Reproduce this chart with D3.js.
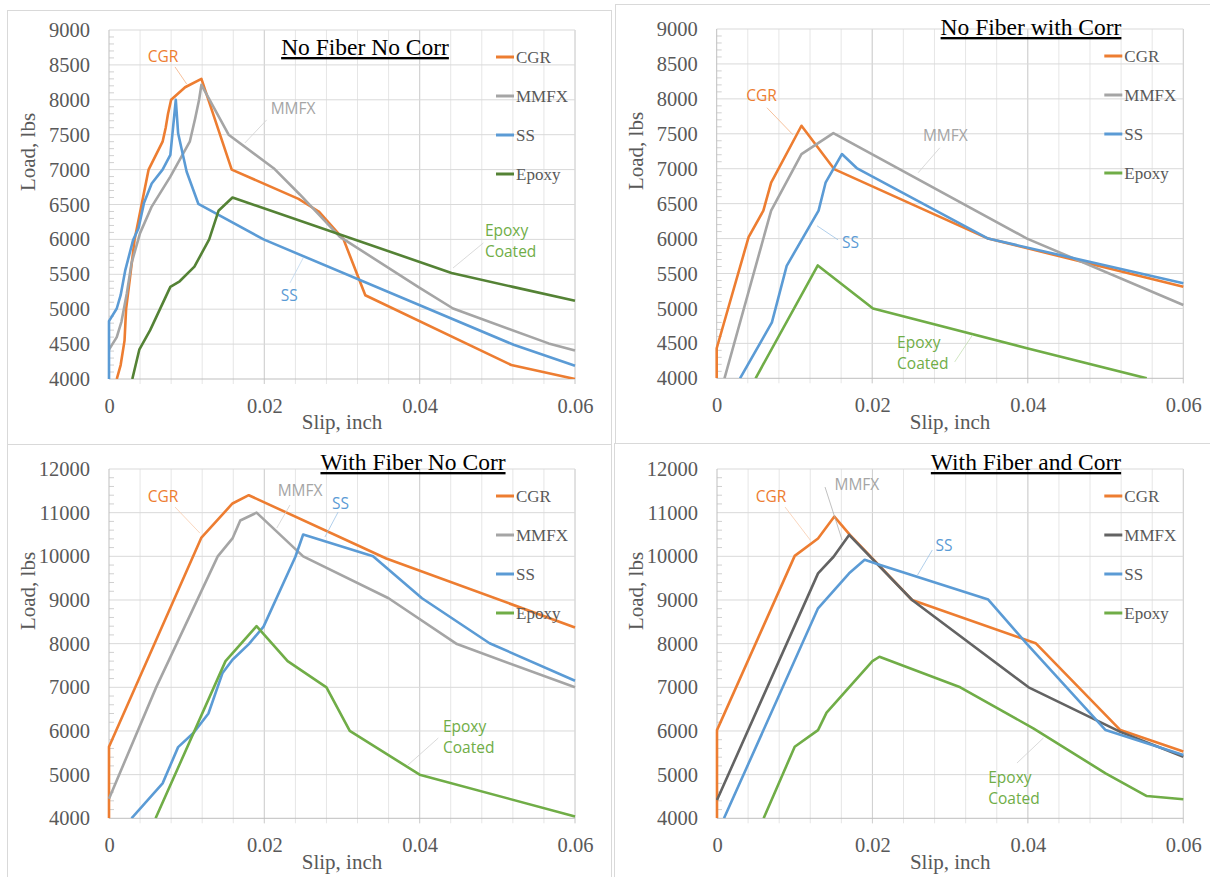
<!DOCTYPE html>
<html>
<head>
<meta charset="utf-8">
<script src="https://cdn.jsdelivr.net/npm/d3@7"></script>
<style>
body { margin: 0; background: #fff; }
svg { display: block; }
.tick text { font-family: 'Liberation Serif', 'Times New Roman', serif; }
</style>
</head>
<body>
<div id="chart"></div>
<script>
// ---- data: [slip (inch), load (lbs)] ----
const seriesNames = ["CGR", "MMFX", "SS", "Epoxy"]
const slipTicks = [0, 0.02, 0.04, 0.06]
const loadTicksNoFiber = [4000, 4500, 5000, 5500, 6000, 6500, 7000, 7500, 8000, 8500, 9000]
const loadTicksFiber = [4000, 5000, 6000, 7000, 8000, 9000, 10000, 11000, 12000]

// No Fiber No Corr
const nfncCGR = [[0.001,4000],[0.0015,4200],[0.002,4550],[0.0022,5000],[0.0027,5450],[0.0033,6000],[0.0042,6500],[0.0051,7000],[0.0069,7400],[0.0073,7600],[0.0076,7800],[0.008,8000],[0.0098,8180],[0.0119,8300],[0.0158,7000],[0.0244,6580],[0.027,6400],[0.0302,6000],[0.033,5200],[0.0518,4200],[0.06,4000]]
const nfncMMFX = [[0,4420],[0.001,4600],[0.0016,4820],[0.0023,5230],[0.0029,5660],[0.004,6090],[0.0055,6470],[0.0079,6900],[0.0104,7400],[0.0111,7735],[0.0116,8000],[0.0119,8215],[0.0154,7500],[0.0212,7020],[0.0246,6640],[0.0297,6040],[0.0398,5320],[0.0443,5010],[0.0566,4510],[0.06,4410]]
const nfncSS = [[0,4000],[0,4830],[0.001,5010],[0.0015,5200],[0.0021,5560],[0.0031,5990],[0.0038,6160],[0.0045,6520],[0.0055,6800],[0.0069,7000],[0.0079,7210],[0.0086,8000],[0.0089,7520],[0.01,6970],[0.0115,6510],[0.0199,6000],[0.0521,4490],[0.06,4190]]
const nfncEpoxy = [[0.003,4000],[0.0039,4420],[0.0053,4700],[0.0079,5320],[0.0091,5400],[0.011,5610],[0.0129,6000],[0.0141,6410],[0.0159,6600],[0.0441,5520],[0.052,5320],[0.06,5120]]

// No Fiber with Corr
const nfwcCGR = [[0,4000],[0,4430],[0.0041,6020],[0.006,6400],[0.007,6800],[0.0109,7615],[0.0151,6995],[0.0349,6000],[0.06,5310]]
const nfwcMMFX = [[0.001,4000],[0.007,6400],[0.0109,7210],[0.015,7510],[0.0399,6000],[0.06,5050]]
const nfwcSS = [[0.003,4000],[0.0071,4800],[0.009,5610],[0.0131,6400],[0.014,6800],[0.0161,7210],[0.018,7010],[0.0349,6000],[0.06,5360]]
const nfwcEpoxy = [[0.005,4000],[0.013,5615],[0.0201,5000],[0.0399,4430],[0.0553,4000]]

// With Fiber No Corr
const wfncCGR = [[0,4000],[0,5640],[0.0119,10430],[0.0159,11210],[0.018,11400],[0.0357,9950],[0.06,8370]]
const wfncMMFX = [[0,4450],[0.0061,7010],[0.014,10000],[0.0159,10410],[0.0169,10820],[0.019,11000],[0.025,10000],[0.036,9040],[0.0448,7990],[0.06,7000]]
const wfncSS = [[0.0029,4000],[0.0069,4800],[0.0089,5630],[0.0109,5960],[0.0128,6400],[0.0146,7320],[0.0159,7630],[0.018,7990],[0.0199,8390],[0.024,9990],[0.025,10500],[0.034,10000],[0.0403,9040],[0.049,8010],[0.06,7150]]
const wfncEpoxy = [[0.006,4000],[0.015,7600],[0.019,8400],[0.023,7600],[0.028,7000],[0.031,6000],[0.04,5000],[0.06,4040]]

// With Fiber and Corr
const wfacCGR = [[0,4000],[0,6020],[0.01,10010],[0.013,10410],[0.0151,10910],[0.0171,10490],[0.0251,9000],[0.041,8010],[0.0519,6020],[0.06,5530]]
const wfacMMFX = [[0,4420],[0.013,9610],[0.015,9990],[0.017,10490],[0.0251,9000],[0.0401,7000],[0.0519,5980],[0.06,5410]]
const wfacSS = [[0.0009,4000],[0.013,8810],[0.017,9610],[0.019,9920],[0.021,9800],[0.0349,9010],[0.0399,7990],[0.05,6020],[0.06,5450]]
const wfacEpoxy = [[0.006,4000],[0.01,5640],[0.013,6020],[0.0141,6420],[0.02,7600],[0.0209,7700],[0.0313,7000],[0.0407,6060],[0.05,5030],[0.0553,4510],[0.06,4435]]

// ---- styling ----
const orange = "#ED7D31", gray = "#A5A5A5", blue = "#5B9BD5", green = "#70AD47"
const darkGreen = "#548235", darkGray = "#636363"
const serif = "'Liberation Serif', 'Times New Roman', serif"
const sans = "'Open Sans', 'Liberation Sans', sans-serif"
const textGray = "#595959"

const W = 1210, H = 877
const svg = d3.select("#chart").append("svg")
    .attr("width", W)
    .attr("height", H)

// panel frames
const frames = [[7.5, 10.5, 604, 434], [615.5, 4.5, 600, 439], [7.5, 444.5, 604, 440], [614.5, 443.5, 600, 440]]
svg.selectAll("rect.frame")
    .data(frames)
    .enter().append("rect")
    .attr("class", "frame")
    .attr("x", d => d[0]).attr("y", d => d[1])
    .attr("width", d => d[2]).attr("height", d => d[3])
    .attr("fill", "none")
    .attr("stroke", "#d9d9d9")

const panels = [
    {
        title: "No Fiber No Corr", titleX: 365, titleY: 55,
        left: 109, right: 575, top: 30, bottom: 379,
        yMax: 9000, ticks: loadTicksNoFiber, minor: 100,
        series: [nfncCGR, nfncMMFX, nfncSS, nfncEpoxy],
        colors: [orange, gray, blue, darkGreen],
        notes: [
            {lines: ["CGR"], x: 0.00695, y: 8614, color: orange, lead: [[0.0085, 8471], [0.01, 8227]], leadColor: "#f4b183"},
            {lines: ["MMFX"], x: 0.0237, y: 7869, color: gray, lead: [[0.0203, 7712], [0.0175, 7382]], leadColor: "#d0d0d0"},
            {lines: ["SS"], x: 0.0232, y: 5189, color: blue, lead: [[0.0233, 5376], [0.025, 5734]], leadColor: "#bcd6ee"},
            {lines: ["Epoxy", "Coated"], x: 0.0484, y: 6121, anchor: "start", color: green, lead: [[0.0482, 5949], [0.0443, 5591]], leadColor: "#d0d0d0"}
        ]
    },
    {
        title: "No Fiber with Corr", titleX: 1031, titleY: 35,
        left: 716.7, right: 1183.3, top: 29, bottom: 378.3,
        yMax: 9000, ticks: loadTicksNoFiber, minor: 100,
        series: [nfwcCGR, nfwcMMFX, nfwcSS, nfwcEpoxy],
        colors: [orange, gray, blue, green],
        notes: [
            {lines: ["CGR"], x: 0.00576, y: 8045, color: orange, lead: [[0.00646, 7873], [0.0098, 7487]], leadColor: "#f4b183"},
            {lines: ["MMFX"], x: 0.0294, y: 7472, color: gray, lead: [[0.0287, 7300], [0.0259, 6942]], leadColor: "#d0d0d0"},
            {lines: ["SS"], x: 0.0172, y: 5939, color: blue, lead: [[0.0156, 5982], [0.0129, 6183]], leadColor: "#9dc3e6"},
            {lines: ["Epoxy", "Coated"], x: 0.0232, y: 4507, anchor: "start", color: green, lead: [[0.0306, 4234], [0.0329, 4621]], leadColor: "#c5e0b4"}
        ]
    },
    {
        title: "With Fiber No Corr", titleX: 413, titleY: 470,
        left: 109, right: 575, top: 469, bottom: 818.3,
        yMax: 12000, ticks: loadTicksFiber, minor: 200,
        series: [wfncCGR, wfncMMFX, wfncSS, wfncEpoxy],
        colors: [orange, gray, blue, green],
        notes: [
            {lines: ["CGR"], x: 0.00695, y: 11369, color: orange, lead: [[0.0085, 11129], [0.0117, 10533]], leadColor: "#f8cbad"},
            {lines: ["MMFX"], x: 0.0246, y: 11495, color: gray, lead: [[0.0233, 11175], [0.0216, 10648]], leadColor: "#d0d0d0"},
            {lines: ["SS"], x: 0.0298, y: 11197, color: blue, lead: [[0.0295, 11014], [0.0278, 10442]], leadColor: "#9dc3e6"},
            {lines: ["Epoxy", "Coated"], x: 0.043, y: 6102, anchor: "start", color: green, lead: [[0.0424, 5839], [0.0385, 5221]], leadColor: "#d0d0d0"}
        ]
    },
    {
        title: "With Fiber and Corr", titleX: 1026, titleY: 470,
        left: 717, right: 1183.3, top: 469, bottom: 818.3,
        yMax: 12000, ticks: loadTicksFiber, minor: 200,
        series: [wfacCGR, wfacMMFX, wfacSS, wfacEpoxy],
        colors: [orange, darkGray, blue, green],
        notes: [
            {lines: ["CGR"], x: 0.00695, y: 11369, color: orange, lead: [[0.00876, 11129], [0.012, 10373]], leadColor: "#f8cbad"},
            {lines: ["MMFX"], x: 0.018, y: 11633, color: gray, lead: [[0.0139, 11587], [0.0161, 10373]], leadColor: "#b0b0b0"},
            {lines: ["SS"], x: 0.0292, y: 10236, color: blue, lead: [[0.0277, 10144], [0.0258, 9571]], leadColor: "#9dc3e6"},
            {lines: ["Epoxy", "Coated"], x: 0.0349, y: 4934, anchor: "start", color: green, lead: [[0.0386, 5266], [0.042, 5839]], leadColor: "#d0d0d0"}
        ]
    }
]

panels.forEach((p, i) => drawPanel(p, i))

function drawPanel(p, idx) {
    const x = d3.scaleLinear().domain([0, 0.06]).range([p.left, p.right])
    const y = d3.scaleLinear().domain([4000, p.yMax]).range([p.bottom, p.top])
    const g = svg.append("g")

    // vertical grid: minor every 0.004, major at labelled ticks
    const vgrid = d3.range(1, 16).map(i => i * 0.004)
    g.selectAll("line.vminor")
        .data(vgrid)
        .enter().append("line")
        .attr("x1", d => x(d)).attr("x2", d => x(d))
        .attr("y1", p.top).attr("y2", p.bottom + 5)
        .attr("stroke", "#e6e6e6")
    g.selectAll("line.vmajor")
        .data(slipTicks.slice(1))
        .enter().append("line")
        .attr("x1", d => x(d)).attr("x2", d => x(d))
        .attr("y1", p.top).attr("y2", p.bottom + 5)
        .attr("stroke", "#d0d0d0")

    // horizontal grid
    g.selectAll("line.hgrid")
        .data(p.ticks.slice(1))
        .enter().append("line")
        .attr("x1", p.left).attr("x2", p.right)
        .attr("y1", d => y(d)).attr("y2", d => y(d))
        .attr("stroke", "#d9d9d9")

    // minor ticks on load axis
    const minorTicks = d3.range(4000, p.yMax, p.minor).filter(v => !p.ticks.includes(v))
    g.selectAll("line.ymin")
        .data(minorTicks)
        .enter().append("line")
        .attr("x1", p.left).attr("x2", p.left + 5)
        .attr("y1", d => y(d)).attr("y2", d => y(d))
        .attr("stroke", "#d0d0d0")

    // axis lines
    g.append("line").attr("x1", p.left).attr("x2", p.left)
        .attr("y1", p.top).attr("y2", p.bottom).attr("stroke", "#bfbfbf")
    g.append("line").attr("x1", p.left).attr("x2", p.right)
        .attr("y1", p.bottom).attr("y2", p.bottom).attr("stroke", "#bfbfbf")

    // tick labels
    const yAxis = g.append("g")
        .attr("transform", `translate(${p.left},0)`)
        .call(d3.axisLeft(y).tickValues(p.ticks).tickSize(0).tickPadding(19).tickFormat(d3.format("d")))
    const xAxis = g.append("g")
        .attr("transform", `translate(0,${p.bottom})`)
        .call(d3.axisBottom(x).tickValues(slipTicks).tickSize(0).tickPadding(19)
            .tickFormat(d => d === 0 ? "0" : d.toFixed(2)))
    for (const a of [yAxis, xAxis]) {
        a.select(".domain").remove()
        a.attr("font-family", null).attr("font-size", null)
        a.selectAll("text")
            .style("font-family", serif)
            .style("font-size", "20.5px")
            .attr("fill", textGray)
    }

    // series lines
    const clipId = "clip" + idx
    svg.append("clipPath").attr("id", clipId)
        .append("rect")
        .attr("x", p.left - 2).attr("y", p.top - 2)
        .attr("width", p.right - p.left + 4).attr("height", p.bottom - p.top + 2)
    const line = d3.line().x(d => x(d[0])).y(d => y(d[1]))
    g.append("g").attr("clip-path", `url(#${clipId})`)
        .selectAll("path.series")
        .data(p.series)
        .enter().append("path")
        .attr("class", "series")
        .attr("d", line)
        .attr("fill", "none")
        .attr("stroke", (d, i) => p.colors[i])
        .attr("stroke-width", 2.6)
        .attr("stroke-linejoin", "round")

    // callout labels with leader lines
    const note = g.selectAll("g.note")
        .data(p.notes)
        .enter().append("g")
    note.append("line")
        .attr("x1", d => x(d.lead[0][0])).attr("y1", d => y(d.lead[0][1]))
        .attr("x2", d => x(d.lead[1][0])).attr("y2", d => y(d.lead[1][1]))
        .attr("stroke", d => d.leadColor)
        .attr("stroke-width", 0.8)
    note.each(function(d) {
        const t = d3.select(this).append("text")
            .attr("font-family", sans)
            .attr("font-size", 15.5)
            .attr("fill", d.color)
            .attr("text-anchor", d.anchor || "middle")
        d.lines.forEach((s, k) => {
            t.append("tspan")
                .attr("x", x(d.x))
                .attr("y", y(d.y) + k * 21)
                .attr("dy", "0.35em")
                .text(s)
        })
    })

    // legend
    const leg = g.selectAll("g.legend")
        .data(seriesNames)
        .enter().append("g")
        .attr("transform", (d, i) => `translate(${p.right - 79},${p.top + 27 + i * 39})`)
    leg.append("line")
        .attr("x1", 0).attr("x2", 18)
        .attr("stroke", (d, i) => p.colors[i])
        .attr("stroke-width", 3)
    leg.append("text")
        .attr("x", 20)
        .attr("dy", "0.35em")
        .attr("font-family", serif)
        .attr("font-size", 17)
        .attr("fill", textGray)
        .text(d => d)

    // title
    g.append("text")
        .attr("x", p.titleX).attr("y", p.titleY)
        .attr("text-anchor", "middle")
        .attr("font-family", serif)
        .attr("font-size", 23.5)
        .attr("fill", "#000")
        .style("text-decoration", "underline")
        .text(p.title)

    // axis titles
    g.append("text")
        .attr("transform", `translate(${p.left - 81},${p.top + 122}) rotate(-90)`)
        .attr("text-anchor", "middle")
        .attr("dy", "0.35em")
        .attr("font-family", serif)
        .attr("font-size", 21)
        .attr("fill", textGray)
        .text("Load, lbs")
    g.append("text")
        .attr("x", (p.left + p.right) / 2).attr("y", p.bottom + 43)
        .attr("text-anchor", "middle")
        .attr("dy", "0.35em")
        .attr("font-family", serif)
        .attr("font-size", 21)
        .attr("fill", textGray)
        .text("Slip, inch")
}
</script>
</body>
</html>
